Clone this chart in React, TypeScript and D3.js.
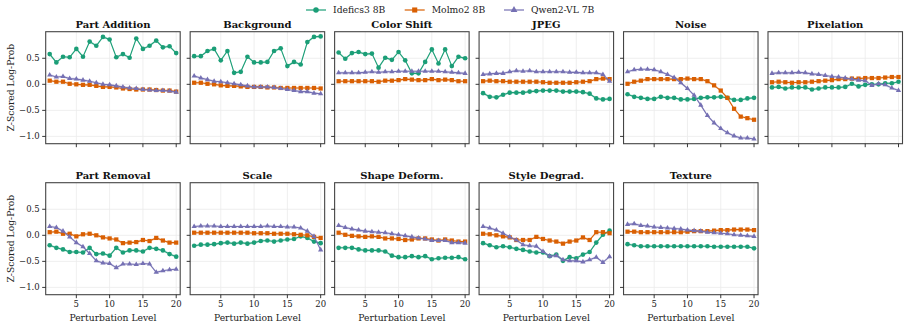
import React from "react";
import * as d3 from "d3";

// Perturbation types, one panel each (2 rows x 6 columns, last cell empty)
const categories = [
  "Part Addition", "Background", "Color Shift", "JPEG", "Noise", "Pixelation",
  "Part Removal", "Scale", "Shape Deform.", "Style Degrad.", "Texture",
];

const levels = d3.range(1, 21);
const xTicks = [5, 10, 15, 20];
const yTicks = [0.5, 0.0, -0.5, -1.0];

const models = ["Idefics3 8B", "Molmo2 8B", "Qwen2-VL 7B"];
const modelColors = ["#1b9e77", "#d95f02", "#7570b3"];

// Z-scored log-prob per perturbation level, rows follow `categories`
const idefics3: number[][] = [
  [0.58,0.42,0.53,0.52,0.68,0.53,0.82,0.74,0.91,0.86,0.52,0.58,0.51,0.88,0.68,0.74,0.84,0.71,0.73,0.60],
  [0.54,0.54,0.64,0.68,0.46,0.64,0.22,0.24,0.53,0.42,0.42,0.43,0.64,0.69,0.35,0.43,0.38,0.81,0.91,0.92],
  [0.61,0.49,0.60,0.62,0.58,0.59,0.32,0.51,0.47,0.62,0.46,0.21,0.21,0.43,0.67,0.40,0.67,0.35,0.53,0.50],
  [-0.17,-0.24,-0.25,-0.20,-0.16,-0.16,-0.16,-0.14,-0.13,-0.12,-0.12,-0.12,-0.14,-0.14,-0.14,-0.15,-0.18,-0.27,-0.29,-0.28],
  [-0.19,-0.24,-0.26,-0.28,-0.28,-0.24,-0.26,-0.26,-0.29,-0.29,-0.28,-0.26,-0.25,-0.25,-0.24,-0.26,-0.30,-0.30,-0.27,-0.26],
  [-0.06,-0.05,-0.08,-0.06,-0.06,-0.06,-0.10,-0.08,-0.06,-0.06,-0.06,-0.05,0.01,-0.04,-0.01,0.00,0.00,0.02,0.02,0.05],
  [-0.19,-0.24,-0.27,-0.32,-0.32,-0.33,-0.24,-0.36,-0.35,-0.39,-0.24,-0.33,-0.29,-0.29,-0.31,-0.24,-0.26,-0.29,-0.36,-0.41],
  [-0.20,-0.18,-0.18,-0.17,-0.15,-0.14,-0.16,-0.14,-0.16,-0.14,-0.11,-0.10,-0.12,-0.10,-0.08,-0.07,-0.02,-0.05,-0.12,-0.15],
  [-0.24,-0.24,-0.24,-0.27,-0.29,-0.29,-0.29,-0.31,-0.39,-0.42,-0.42,-0.40,-0.42,-0.40,-0.46,-0.44,-0.43,-0.43,-0.42,-0.46],
  [-0.15,-0.19,-0.23,-0.21,-0.23,-0.26,-0.28,-0.31,-0.33,-0.33,-0.40,-0.37,-0.49,-0.42,-0.44,-0.37,-0.32,-0.14,0.01,0.09],
  [-0.17,-0.19,-0.21,-0.21,-0.21,-0.21,-0.21,-0.21,-0.21,-0.21,-0.21,-0.21,-0.21,-0.22,-0.22,-0.22,-0.22,-0.22,-0.22,-0.25],
];

const molmo2: number[][] = [
  [0.07,0.05,0.05,0.01,0.00,-0.01,-0.01,-0.03,-0.05,-0.05,-0.06,-0.08,-0.09,-0.10,-0.10,-0.10,-0.11,-0.12,-0.12,-0.14],
  [0.03,0.03,0.01,0.00,-0.02,-0.03,-0.03,-0.04,-0.05,-0.05,-0.05,-0.06,-0.06,-0.07,-0.07,-0.07,-0.07,-0.07,-0.07,-0.08],
  [0.06,0.06,0.06,0.06,0.06,0.06,0.05,0.07,0.07,0.08,0.10,0.09,0.08,0.08,0.10,0.08,0.09,0.08,0.06,0.06],
  [0.06,0.07,0.06,0.06,0.05,0.05,0.05,0.05,0.05,0.04,0.03,0.03,0.03,0.03,0.04,0.05,0.06,0.10,0.11,0.10],
  [0.01,0.05,0.07,0.10,0.10,0.10,0.10,0.10,0.10,0.11,0.10,0.10,0.06,-0.02,-0.12,-0.26,-0.47,-0.62,-0.65,-0.68],
  [0.04,0.05,0.04,0.03,0.04,0.04,0.05,0.06,0.07,0.08,0.10,0.10,0.11,0.11,0.12,0.12,0.12,0.13,0.14,0.14],
  [0.06,0.07,0.03,0.03,-0.02,0.02,0.03,0.00,-0.04,-0.06,-0.08,-0.15,-0.14,-0.13,-0.09,-0.11,-0.05,-0.10,-0.14,-0.14],
  [0.05,0.05,0.05,0.05,0.05,0.05,0.05,0.05,0.05,0.04,0.04,0.04,0.03,0.03,0.03,0.02,0.01,0.00,-0.03,-0.05],
  [0.05,0.01,-0.01,-0.02,-0.03,-0.02,-0.03,-0.06,-0.06,-0.07,-0.09,-0.08,-0.06,-0.06,-0.08,-0.10,-0.08,-0.10,-0.12,-0.12],
  [0.03,0.02,0.00,-0.02,-0.04,-0.09,-0.09,-0.09,-0.03,-0.07,-0.10,-0.12,-0.16,-0.12,-0.10,-0.04,-0.09,0.06,0.06,0.04],
  [0.07,0.07,0.06,0.06,0.06,0.06,0.06,0.06,0.06,0.07,0.08,0.08,0.08,0.09,0.10,0.10,0.11,0.11,0.11,0.10],
];

const qwen2vl: number[][] = [
  [0.18,0.14,0.15,0.11,0.10,0.08,0.06,0.03,0.00,-0.01,-0.03,-0.05,-0.07,-0.08,-0.10,-0.11,-0.12,-0.12,-0.13,-0.15],
  [0.16,0.12,0.09,0.06,0.05,0.03,0.01,-0.01,-0.03,-0.05,-0.05,-0.05,-0.06,-0.08,-0.10,-0.12,-0.14,-0.14,-0.17,-0.18],
  [0.22,0.22,0.22,0.22,0.23,0.24,0.23,0.24,0.24,0.25,0.25,0.25,0.25,0.25,0.25,0.25,0.24,0.23,0.22,0.21],
  [0.19,0.20,0.21,0.21,0.24,0.26,0.25,0.26,0.24,0.24,0.24,0.24,0.24,0.23,0.23,0.22,0.22,0.22,0.19,0.06],
  [0.24,0.28,0.29,0.29,0.28,0.24,0.19,0.13,0.03,-0.08,-0.21,-0.40,-0.60,-0.74,-0.85,-0.93,-0.99,-1.03,-1.03,-1.05],
  [0.21,0.22,0.22,0.22,0.23,0.22,0.20,0.19,0.17,0.15,0.14,0.12,0.10,0.08,0.07,-0.02,0.01,-0.01,-0.07,-0.12],
  [0.17,0.15,0.08,-0.03,-0.14,-0.22,-0.35,-0.49,-0.53,-0.54,-0.62,-0.55,-0.55,-0.56,-0.54,-0.55,-0.71,-0.68,-0.66,-0.65],
  [0.17,0.18,0.18,0.18,0.17,0.17,0.17,0.17,0.17,0.17,0.17,0.18,0.17,0.17,0.16,0.16,0.14,0.08,-0.02,-0.28],
  [0.19,0.15,0.12,0.10,0.08,0.07,0.06,0.05,0.03,0.01,-0.01,-0.03,-0.05,-0.07,-0.10,-0.10,-0.10,-0.14,-0.14,-0.15],
  [0.17,0.14,0.10,0.04,-0.03,-0.09,-0.18,-0.20,-0.21,-0.31,-0.40,-0.39,-0.47,-0.49,-0.49,-0.51,-0.47,-0.42,-0.52,-0.41],
  [0.21,0.22,0.19,0.18,0.16,0.15,0.14,0.13,0.12,0.10,0.09,0.08,0.06,0.05,0.04,0.03,0.01,0.00,-0.01,-0.02],
];

const seriesData = [idefics3, molmo2, qwen2vl];

const W = 909;
const H = 326;
const FONT = "'DejaVu Serif', serif";
const COLS = 6;
const colLeft0 = 45.7;
const colStep = 144.46;
const panelW = 134.5;
const rowTops = [31.7, 182.7];
const panelH = 112;

const symbolTypes = [d3.symbolCircle, d3.symbolSquare, d3.symbolTriangle];
const symbolSizes = [17, 18, 12];
const legendSymbolSizes = [24, 26, 20];
const bandHalf = 0.025;

function Panel({ idx }: { idx: number }) {
  const col = idx % COLS;
  const row = Math.floor(idx / COLS);
  const left = colLeft0 + col * colStep;
  const top = rowTops[row];
  const x = d3.scaleLinear().domain([0.4, 20.6]).range([0, panelW]);
  const y = d3.scaleLinear().domain([-1.14, 1.01]).range([panelH, 0]);
  const showYLabels = col === 0;
  const showXLabels = row === 1;
  const line = d3.line<number>().x((_, i) => x(levels[i])).y((d) => y(d));
  const area = d3
    .area<number>()
    .x((_, i) => x(levels[i]))
    .y0((d) => y(d - bandHalf))
    .y1((d) => y(d + bandHalf));

  return (
    <g transform={`translate(${left},${top})`}>
      <rect x={0} y={0} width={panelW} height={panelH} fill="#fff" />
      {xTicks.map((t) => (
        <line key={"gx" + t} x1={x(t)} x2={x(t)} y1={0} y2={panelH} stroke="#ebebeb" strokeWidth={0.8} />
      ))}
      {yTicks.map((t) => (
        <line key={"gy" + t} x1={0} x2={panelW} y1={y(t)} y2={y(t)} stroke="#ebebeb" strokeWidth={0.8} />
      ))}
      {seriesData.map((s, si) => {
        const vals = s[idx];
        const sym = d3.symbol(symbolTypes[si], symbolSizes[si]);
        return (
          <g key={si}>
            <path d={area(vals) || ""} fill={modelColors[si]} opacity={0.18} />
            <path d={line(vals) || ""} fill="none" stroke={modelColors[si]} strokeWidth={1.1} />
            {vals.map((v, i) => (
              <path
                key={i}
                d={sym() || ""}
                transform={`translate(${x(levels[i])},${y(v)})`}
                fill={modelColors[si]}
              />
            ))}
          </g>
        );
      })}
      <rect x={0} y={0} width={panelW} height={panelH} fill="none" stroke="#444" strokeWidth={1.1} />
      {xTicks.map((t) => (
        <g key={"xt" + t}>
          <line x1={x(t)} x2={x(t)} y1={panelH} y2={panelH + 3.5} stroke="#222" strokeWidth={0.9} />
          {showXLabels && (
            <text x={x(t)} y={panelH + 12.5} textAnchor="middle" fontSize={8.5} fontFamily={FONT} fill="#222">
              {t}
            </text>
          )}
        </g>
      ))}
      {yTicks.map((t) => (
        <g key={"yt" + t}>
          <line x1={-3.5} x2={0} y1={y(t)} y2={y(t)} stroke="#222" strokeWidth={0.9} />
          {showYLabels && (
            <text x={-6} y={y(t)} dy="0.35em" textAnchor="end" fontSize={8.5} fontFamily={FONT} fill="#222">
              {d3.format(".1f")(t).replace("-", "\u2212")}
            </text>
          )}
        </g>
      ))}
      <text x={panelW / 2} y={-4} textAnchor="middle" fontSize={10} fontWeight="bold" fontFamily={FONT} fill="#111">
        {categories[idx]}
      </text>
      {showYLabels && (
        <text
          transform={`translate(${-32},${panelH / 2}) rotate(-90)`}
          textAnchor="middle"
          fontSize={9.2}
          fontFamily={FONT}
          fill="#222"
        >
          Z-Scored Log-Prob
        </text>
      )}
      {row === 1 && (
        <text x={panelW / 2} y={panelH + 26.5} textAnchor="middle" fontSize={9.2} fontFamily={FONT} fill="#222">
          Perturbation Level
        </text>
      )}
    </g>
  );
}

function Legend() {
  const starts = [306, 404.7, 504];
  return (
    <g>
      {models.map((m, i) => {
        const sym = d3.symbol(symbolTypes[i], legendSymbolSizes[i]);
        const x0 = starts[i];
        return (
          <g key={m}>
            <line x1={x0} x2={x0 + 20} y1={10} y2={10} stroke={modelColors[i]} strokeWidth={1.2} />
            <path d={sym() || ""} transform={`translate(${x0 + 10},10)`} fill={modelColors[i]} />
            <text x={x0 + 27} y={10} dy="0.35em" fontSize={9.2} fontFamily={FONT} fill="#222">
              {m}
            </text>
          </g>
        );
      })}
    </g>
  );
}

export default function App() {
  return (
    <div style={{ position: "absolute", left: 0, top: 0 }}>
      <svg width={W} height={H} viewBox={`0 0 ${W} ${H}`} style={{ display: "block", background: "#fff" }}>
        <Legend />
        {categories.map((_, i) => (
          <Panel key={i} idx={i} />
        ))}
      </svg>
    </div>
  );
}
